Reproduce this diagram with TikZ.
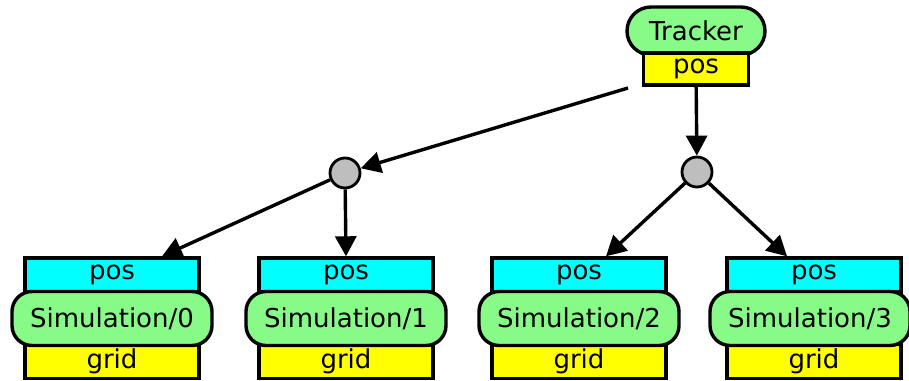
\documentclass[tikz,border=0pt]{standalone}
\usepackage{fontspec}
\setmainfont{DejaVu Sans}
\usepackage{tikz}
\usetikzlibrary{arrows.meta}

\definecolor{slotcyan}{RGB}{0,255,255}
\definecolor{slotyellow}{RGB}{255,255,0}
\definecolor{taskgreen}{RGB}{135,250,135}
\definecolor{hubgray}{RGB}{190,190,190}

\tikzset{
  slot/.style={draw,line width=1.7pt,inner sep=0pt,minimum width=87pt,minimum height=17pt},
  task/.style={draw,line width=1.7pt,fill=taskgreen,rounded corners=10pt,inner sep=0pt,minimum width=100pt,minimum height=27pt},
  hub/.style={draw,circle,line width=1.4pt,fill=hubgray,inner sep=0pt,minimum size=15pt},
  flow/.style={line width=1.7pt,-{Triangle[length=10pt,width=10.5pt]}}
}

\begin{document}
\begin{tikzpicture}[x=0.5pt,y=-0.5pt,font=\fontsize{13}{15}\selectfont]

\useasboundingbox (0,0) rectangle (909,380);

% tracker
\node[task,rounded corners=12pt,minimum width=69pt,minimum height=24pt] (tracker) at (696,31) {Tracker};
\node[slot,fill=slotyellow,minimum width=52.5pt,minimum height=16pt] (trackpos) at (696,69) {pos};

% hubs
\node[hub] (hubL) at (345,173) {};
\node[hub] (hubR) at (697,172) {};

% simulations
\node[slot,fill=slotcyan] (pos0) at (112,275) {pos};
\node[slot,fill=slotyellow] (grid0) at (112,361.5) {grid};
\node[task] (sim0) at (112,318.5) {Simulation/0};

\node[slot,fill=slotcyan] (pos1) at (346,275) {pos};
\node[slot,fill=slotyellow] (grid1) at (346,361.5) {grid};
\node[task] (sim1) at (346,318.5) {Simulation/1};

\node[slot,fill=slotcyan] (pos2) at (579,275) {pos};
\node[slot,fill=slotyellow] (grid2) at (579,361.5) {grid};
\node[task] (sim2) at (579,318.5) {Simulation/2};

\node[slot,fill=slotcyan] (pos3) at (814,275) {pos};
\node[slot,fill=slotyellow] (grid3) at (814,361.5) {grid};
\node[task] (sim3) at (810,318.5) {Simulation/3};

% connections
\coordinate (tail) at (628,88);
\draw[flow] (tail) -- (hubL);
\draw[flow] (trackpos) -- (hubR);

\draw[flow] (hubL) -- ([xshift=25pt]pos0.north);
\draw[flow] (hubL) -- (pos1.north);
\draw[flow] (hubR) -- ([xshift=13.5pt]pos2.north);
\draw[flow] (hubR) -- ([xshift=-13.5pt]pos3.north);

\end{tikzpicture}
\end{document}
